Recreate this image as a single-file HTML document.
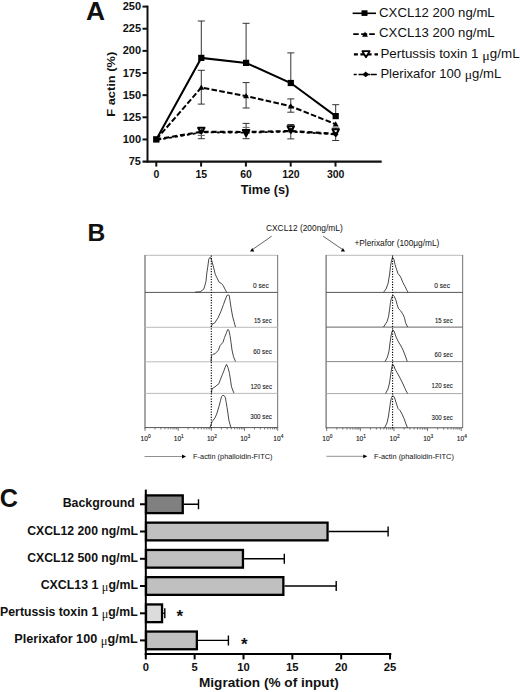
<!DOCTYPE html>
<html><head><meta charset="utf-8">
<style>
html,body{margin:0;padding:0;background:#fff;width:520px;height:692px;overflow:hidden}
svg{display:block;position:absolute;left:0;top:0}
text{font-family:"Liberation Sans",sans-serif;fill:#111}
.b{font-weight:bold}
.mus{font-family:"Liberation Serif",serif;font-size:1.05em}
.mu{font-family:"Liberation Serif",serif;font-weight:normal;font-size:1.0em}
</style></head><body>
<svg width="520" height="692" viewBox="0 0 520 692">
<text class="b" x="85.9" y="20.2" font-size="26.4">A</text>
<g stroke="#111" stroke-width="2" fill="none">
<line x1="147.5" y1="5.6" x2="147.5" y2="162.6"/>
<line x1="142.5" y1="6.60" x2="147.5" y2="6.60"/>
<line x1="142.5" y1="28.74" x2="147.5" y2="28.74"/>
<line x1="142.5" y1="50.88" x2="147.5" y2="50.88"/>
<line x1="142.5" y1="73.02" x2="147.5" y2="73.02"/>
<line x1="142.5" y1="95.16" x2="147.5" y2="95.16"/>
<line x1="142.5" y1="117.30" x2="147.5" y2="117.30"/>
<line x1="142.5" y1="139.44" x2="147.5" y2="139.44"/>
<line x1="142.5" y1="161.6" x2="381.7" y2="161.6" stroke-width="2.2"/>
<line x1="156.30" y1="161.6" x2="156.30" y2="166.6"/>
<line x1="201.10" y1="161.6" x2="201.10" y2="166.6"/>
<line x1="245.90" y1="161.6" x2="245.90" y2="166.6"/>
<line x1="290.70" y1="161.6" x2="290.70" y2="166.6"/>
<line x1="335.50" y1="161.6" x2="335.50" y2="166.6"/>
</g>
<g class="b" font-size="11" text-anchor="end">
<text x="141" y="10.20">250</text>
<text x="141" y="32.34">225</text>
<text x="141" y="54.48">200</text>
<text x="141" y="76.62">175</text>
<text x="141" y="98.76">150</text>
<text x="141" y="120.90">125</text>
<text x="141" y="143.04">100</text>
<text x="141" y="165.18">75</text>
</g>
<g class="b" font-size="10.5" text-anchor="middle">
<text x="156.50" y="177.9">0</text>
<text x="201.30" y="177.9">15</text>
<text x="246.10" y="177.9">60</text>
<text x="290.90" y="177.9">120</text>
<text x="335.70" y="177.9">300</text>
</g>
<text class="b" x="240.8" y="194.1" font-size="12.2" textLength="48.5" lengthAdjust="spacingAndGlyphs">Time (s)</text>
<text class="b" transform="translate(114.7,116.8) rotate(-90)" font-size="11.5" textLength="65" lengthAdjust="spacingAndGlyphs">F actin (%)</text>
<g stroke="#333" stroke-width="1" fill="none">
<path d="M201.3 21.0V57.9 M197.8 21.0h7"/>
<path d="M201.3 70.3V104.1 M197.8 70.3h7 M197.8 104.1h7"/>
<path d="M201.3 127.5V138.7 M197.8 127.5h7 M197.8 138.7h7"/>
<path d="M197.8 135.4h7" stroke="#666"/>
<path d="M246.1 23.3V62.9 M242.6 23.3h7"/>
<path d="M246.1 82.6V108 M242.6 82.6h7 M242.6 108h7"/>
<path d="M246.1 123.4V138.7 M242.6 123.4h7 M242.6 138.7h7"/>
<path d="M242.6 127.4h7" stroke="#666"/>
<path d="M290.8 52.9V83.0 M287.3 52.9h7"/>
<path d="M290.8 98.9V112.2 M287.3 98.9h7 M287.3 112.2h7"/>
<path d="M290.8 124.5V138.9 M287.3 124.5h7 M287.3 138.9h7"/>
<path d="M335.7 104.7V116.1 M332.2 104.7h7"/>
<path d="M335.7 128V140.5 M332.2 128h7 M332.2 140.5h7"/>
</g>
<g fill="none" stroke="#000" stroke-width="2">
<polyline points="156.3,139.4 201.3,57.9 246.1,62.9 290.8,83.0 335.7,116.1"/>
<polyline points="156.3,139.4 201.3,87.6 246.1,96.1 290.8,106.3 335.7,124.2" stroke-dasharray="5.6,2.3"/>
<polyline points="156.3,139.4 201.3,131.8 246.1,132.0 290.8,131.0 335.7,133.8" stroke-dasharray="5,3" stroke-width="2.2"/>
<polyline points="156.3,140.0 201.3,132.4 246.1,132.6 290.8,131.6 335.7,134.4" stroke-dasharray="3,3" stroke-dashoffset="5" stroke-width="1.8"/>
</g>
<g fill="#000">
<rect x="153.10" y="136.20" width="6.4" height="6.4"/>
<rect x="198.20" y="54.80" width="6.2" height="6.2"/>
<rect x="243.00" y="59.80" width="6.2" height="6.2"/>
<rect x="287.70" y="79.90" width="6.2" height="6.2"/>
<rect x="332.60" y="113.00" width="6.2" height="6.2"/>
<path d="M201.3 84.6l3 5.2h-6z"/>
<path d="M246.1 93.1l3 5.2h-6z"/>
<path d="M290.8 103.3l3 5.2h-6z"/>
<path d="M335.7 121.2l3 5.2h-6z"/>
</g>
<g fill="#fff" stroke="#000" stroke-width="2.1" stroke-linejoin="round">
<path d="M198.10000000000002 127.8h6.4L201.3 133.2z"/>
<path d="M242.9 130.0h6.4L246.1 136.0z"/>
<path d="M287.6 126.2h6.4L290.8 132.8z"/>
<path d="M332.5 129.2h6.4L335.7 135.8z"/>
</g>
<g fill="#000">
<path d="M201.3 129.0l2.8 2.6-2.8 2.6-2.8-2.6z"/>
<path d="M246.1 129.8l2.8 2.6-2.8 2.6-2.8-2.6z"/>
<path d="M290.8 127.6l2.8 2.6-2.8 2.6-2.8-2.6z"/>
<path d="M335.7 131.8l2.8 2.6-2.8 2.6-2.8-2.6z"/>
</g>
<g stroke="#000" fill="none">
<line x1="352.6" y1="13.3" x2="376" y2="13.3" stroke-width="1.6"/>
<path d="M353.2 34.1h5.5 M361.2 34.1h6 M369.2 34.1h5.6" stroke-width="1.6"/>
<path d="M353.9 54.3h4 M360.4 54.3h11.2 M374.5 54.3h3.5" stroke-width="2.2"/>
<path d="M353.7 74.4h3 M358.5 74.4h12 M371 74.4h5.8" stroke-width="1.5"/>
</g>
<rect x="361.5" y="10.3" width="6" height="5.6" fill="#000"/>
<path d="M365 31.4l2.9 5.3h-5.8z" fill="#000"/>
<path d="M362.4 51.2h7.2l-3.6 6z" fill="#fff" stroke="#000" stroke-width="1.8" stroke-linejoin="round"/>
<path d="M365.7 71.6l3.3 2.8-3.3 2.8-3.3-2.8z" fill="#000"/>
<g font-size="12.2">
<text x="379.1" y="16.8" textLength="115.6" lengthAdjust="spacingAndGlyphs">CXCL12 200 ng/mL</text>
<text x="379.1" y="36.9" textLength="115.6" lengthAdjust="spacingAndGlyphs">CXCL13 200 ng/mL</text>
<text x="380.4" y="58.4" textLength="139.2" lengthAdjust="spacingAndGlyphs">Pertussis toxin 1 <tspan class="mus" dy="1.4">μ</tspan><tspan dy="-1.4">g/mL</tspan></text>
<text x="380.4" y="77.9" textLength="120.8" lengthAdjust="spacingAndGlyphs">Plerixafor 100 <tspan class="mus" dy="1.4">μ</tspan><tspan dy="-1.4">g/mL</tspan></text>
</g>
<text class="b" x="87.6" y="241.3" font-size="24.6">B</text>
<text x="266" y="231.4" font-size="8.6" textLength="76.7" lengthAdjust="spacingAndGlyphs">CXCL12 (200ng/mL)</text>
<text x="354.4" y="246.2" font-size="8.4" textLength="85" lengthAdjust="spacingAndGlyphs">+Plerixafor (100μg/mL)</text>
<g stroke="#333" stroke-width="0.75" fill="#000">
<line x1="271.7" y1="236.2" x2="253" y2="249.2"/>
<line x1="323.1" y1="236.2" x2="342.4" y2="249.4"/>
<path d="M250.1 251.6h4.3l-2.2-3.6z M340.8 251.4h4.2l-2.1-3.5z" stroke="none"/>
</g>
<g fill="none" stroke-width="1">
<line x1="145" y1="255.3" x2="277.6" y2="255.3" stroke="#bbb"/>
<line x1="145" y1="255" x2="145" y2="428.5" stroke="#777" stroke-width="1.3"/>
<line x1="277.6" y1="255" x2="277.6" y2="428" stroke="#888" stroke-width="1.2"/>
<line x1="145" y1="292.4" x2="277.6" y2="292.4" stroke="#555"/>
<line x1="145" y1="327.3" x2="277.6" y2="327.3" stroke="#bbb"/>
<line x1="145" y1="361.8" x2="277.6" y2="361.8" stroke="#bbb"/>
<line x1="145" y1="393.4" x2="277.6" y2="393.4" stroke="#bbb"/>
<line x1="145" y1="427.6" x2="277.6" y2="427.6" stroke="#555"/>
</g>
<g fill="none" stroke-width="1">
<line x1="326.1" y1="255.3" x2="462.6" y2="255.3" stroke="#bbb"/>
<line x1="326.1" y1="255" x2="326.1" y2="428.5" stroke="#777" stroke-width="1.3"/>
<line x1="462.6" y1="255" x2="462.6" y2="428" stroke="#888" stroke-width="1.2"/>
<line x1="326.1" y1="292.4" x2="462.6" y2="292.4" stroke="#555"/>
<line x1="326.1" y1="327.1" x2="462.6" y2="327.1" stroke="#666"/>
<line x1="326.1" y1="361.6" x2="462.6" y2="361.6" stroke="#888"/>
<line x1="326.1" y1="393.6" x2="462.6" y2="393.6" stroke="#aaa"/>
<line x1="326.1" y1="427.8" x2="462.6" y2="427.8" stroke="#555"/>
</g>
<g fill="none" stroke="#333" stroke-width="0.9" stroke-linejoin="round">
<polyline points="195,292.2 200.2,291.8 203.7,289.2 204.8,285.8 206,281.2 206.8,273.1 207.7,267.3 208.8,259.2 209.8,257.5 210.9,257.8 211.7,260.4 212.9,265 214,269 215.2,274.2 216.9,277.7 219.2,282.3 221.5,283.5 223.3,285.8 225,289.2 226.7,292.4"/>
<polyline points="211.1,327 212.5,323.7 214.5,323.2 218,317.9 221,311.2 223.5,304.4 226,297.7 227,295.3 228.3,295 229.2,295.3 230,300.6 231,307.3 232.5,316 234,321.7 235.5,327"/>
<polyline points="211,361.5 211.5,355.8 213,354.3 215,353.8 218.5,350 220,345.7 223,342.3 224.5,337.5 226.5,332.7 227.5,329.8 228.3,329.5 229,330.8 230,335.6 231,342.3 232,350 233.5,356.7 235.5,361.5"/>
<polyline points="211.5,393.2 212,388.8 215,386.8 219,383.5 220.5,379.2 222.5,374.3 224,370.5 225,367.6 226.5,364.3 228,367.6 229.5,373.4 230.5,380.1 231.5,386.8 233.5,392.1 234,393.2"/>
<polyline points="210,427.5 212,421.7 215,417.9 217,413.1 219,406.3 220.5,400.6 221.5,396.7 222.5,395.5 224,395.5 225.5,397.7 226,401.5 227,407.3 228,414 229,420.8 230.5,426 231,427.5"/>
<polyline points="383.5,292.3 386,289 388,283.7 389.5,275 390.5,266.3 391.5,260.6 392.5,257.2 394,259.6 395,264.4 396.5,269.2 398,273.6 400,276 401,277.9 403,282.7 405,286.5 407,290.4 408,292.3"/>
<polyline points="383.5,327 387,321.7 388.5,316.8 389.5,310.1 390.5,302.4 391.5,297.6 393,295.2 394.5,296.7 396,300.5 397,304.3 398.5,308.7 400.5,310.6 403,314.4 404.5,317.8 405.5,322.6 407,326 408,327"/>
<polyline points="385,361.6 387.5,357 389,351 390,343 391,336 392,331.5 392.8,330 394,331 395,334 396.5,338 398.5,342 401,346 403,350 405,355 407.3,361.6"/>
<polyline points="385.5,393.6 388,389 389.5,383 390.5,376 391.5,369 392.5,364 394,366 395,369 397,372.5 399,376 401,380 403,384 405,388.5 407.5,393.6"/>
<polyline points="384.5,427.8 387,423 388.5,416 389.5,409 390.5,402 391.5,397.5 392.5,395.8 394,396.5 395,399 396.5,404 398,408.5 400,410.5 402,414 404,418.5 406,424 407.5,427.8"/>
</g>
<line x1="211.3" y1="255.5" x2="211.3" y2="428" stroke="#000" stroke-width="1.1" stroke-dasharray="1.2,1.4"/>
<line x1="392.6" y1="255.5" x2="392.6" y2="428" stroke="#000" stroke-width="1.1" stroke-dasharray="1.2,1.4"/>
<g font-size="6.5" fill="#111" stroke="#111" stroke-width="0.08">
<text x="253.1" y="287.8" lengthAdjust="spacingAndGlyphs" textLength="15.7">0 sec</text>
<text x="253.9" y="322.7" lengthAdjust="spacingAndGlyphs" textLength="17.9">15 sec</text>
<text x="253.3" y="354.1" lengthAdjust="spacingAndGlyphs" textLength="18.5">60 sec</text>
<text x="250.4" y="389" lengthAdjust="spacingAndGlyphs" textLength="21.7">120 sec</text>
<text x="250.2" y="419.1" lengthAdjust="spacingAndGlyphs" textLength="21.8">300 sec</text>
<text x="434.2" y="288" lengthAdjust="spacingAndGlyphs" textLength="15.8">0 sec</text>
<text x="434.9" y="322.6" lengthAdjust="spacingAndGlyphs" textLength="17.8">15 sec</text>
<text x="434.6" y="357.1" lengthAdjust="spacingAndGlyphs" textLength="18.2">60 sec</text>
<text x="431.6" y="388.3" lengthAdjust="spacingAndGlyphs" textLength="21.2">120 sec</text>
<text x="431.6" y="419.7" lengthAdjust="spacingAndGlyphs" textLength="21.2">300 sec</text>
</g>
<g stroke="#555" stroke-width="0.8">
<line x1="145.00" y1="427.6" x2="145.00" y2="430.90000000000003"/>
<line x1="154.99" y1="427.6" x2="154.99" y2="429.40000000000003"/>
<line x1="160.83" y1="427.6" x2="160.83" y2="429.40000000000003"/>
<line x1="164.98" y1="427.6" x2="164.98" y2="429.40000000000003"/>
<line x1="168.19" y1="427.6" x2="168.19" y2="429.40000000000003"/>
<line x1="170.82" y1="427.6" x2="170.82" y2="429.40000000000003"/>
<line x1="173.04" y1="427.6" x2="173.04" y2="429.40000000000003"/>
<line x1="174.96" y1="427.6" x2="174.96" y2="429.40000000000003"/>
<line x1="176.66" y1="427.6" x2="176.66" y2="429.40000000000003"/>
<line x1="178.18" y1="427.6" x2="178.18" y2="430.90000000000003"/>
<line x1="188.17" y1="427.6" x2="188.17" y2="429.40000000000003"/>
<line x1="194.01" y1="427.6" x2="194.01" y2="429.40000000000003"/>
<line x1="198.16" y1="427.6" x2="198.16" y2="429.40000000000003"/>
<line x1="201.37" y1="427.6" x2="201.37" y2="429.40000000000003"/>
<line x1="204.00" y1="427.6" x2="204.00" y2="429.40000000000003"/>
<line x1="206.22" y1="427.6" x2="206.22" y2="429.40000000000003"/>
<line x1="208.14" y1="427.6" x2="208.14" y2="429.40000000000003"/>
<line x1="209.84" y1="427.6" x2="209.84" y2="429.40000000000003"/>
<line x1="211.36" y1="427.6" x2="211.36" y2="430.90000000000003"/>
<line x1="221.35" y1="427.6" x2="221.35" y2="429.40000000000003"/>
<line x1="227.19" y1="427.6" x2="227.19" y2="429.40000000000003"/>
<line x1="231.34" y1="427.6" x2="231.34" y2="429.40000000000003"/>
<line x1="234.55" y1="427.6" x2="234.55" y2="429.40000000000003"/>
<line x1="237.18" y1="427.6" x2="237.18" y2="429.40000000000003"/>
<line x1="239.40" y1="427.6" x2="239.40" y2="429.40000000000003"/>
<line x1="241.32" y1="427.6" x2="241.32" y2="429.40000000000003"/>
<line x1="243.02" y1="427.6" x2="243.02" y2="429.40000000000003"/>
<line x1="244.54" y1="427.6" x2="244.54" y2="430.90000000000003"/>
<line x1="254.53" y1="427.6" x2="254.53" y2="429.40000000000003"/>
<line x1="260.37" y1="427.6" x2="260.37" y2="429.40000000000003"/>
<line x1="264.52" y1="427.6" x2="264.52" y2="429.40000000000003"/>
<line x1="267.73" y1="427.6" x2="267.73" y2="429.40000000000003"/>
<line x1="270.36" y1="427.6" x2="270.36" y2="429.40000000000003"/>
<line x1="272.58" y1="427.6" x2="272.58" y2="429.40000000000003"/>
<line x1="274.50" y1="427.6" x2="274.50" y2="429.40000000000003"/>
<line x1="276.20" y1="427.6" x2="276.20" y2="429.40000000000003"/>
<line x1="277.72" y1="427.6" x2="277.72" y2="430.90000000000003"/>
</g>
<g fill="#222">
<text x="140.60" y="440.8" font-size="6.6" stroke="#222" stroke-width="0.12">10<tspan dy="-2.8" font-size="4.8">0</tspan></text>
<text x="173.78" y="440.8" font-size="6.6" stroke="#222" stroke-width="0.12">10<tspan dy="-2.8" font-size="4.8">1</tspan></text>
<text x="206.96" y="440.8" font-size="6.6" stroke="#222" stroke-width="0.12">10<tspan dy="-2.8" font-size="4.8">2</tspan></text>
<text x="240.14" y="440.8" font-size="6.6" stroke="#222" stroke-width="0.12">10<tspan dy="-2.8" font-size="4.8">3</tspan></text>
<text x="273.32" y="440.8" font-size="6.6" stroke="#222" stroke-width="0.12">10<tspan dy="-2.8" font-size="4.8">4</tspan></text>
</g>
<g stroke="#555" stroke-width="0.8">
<line x1="326.70" y1="427.8" x2="326.70" y2="431.1"/>
<line x1="336.82" y1="427.8" x2="336.82" y2="429.6"/>
<line x1="342.75" y1="427.8" x2="342.75" y2="429.6"/>
<line x1="346.95" y1="427.8" x2="346.95" y2="429.6"/>
<line x1="350.21" y1="427.8" x2="350.21" y2="429.6"/>
<line x1="352.87" y1="427.8" x2="352.87" y2="429.6"/>
<line x1="355.12" y1="427.8" x2="355.12" y2="429.6"/>
<line x1="357.07" y1="427.8" x2="357.07" y2="429.6"/>
<line x1="358.79" y1="427.8" x2="358.79" y2="429.6"/>
<line x1="360.33" y1="427.8" x2="360.33" y2="431.1"/>
<line x1="370.45" y1="427.8" x2="370.45" y2="429.6"/>
<line x1="376.38" y1="427.8" x2="376.38" y2="429.6"/>
<line x1="380.58" y1="427.8" x2="380.58" y2="429.6"/>
<line x1="383.84" y1="427.8" x2="383.84" y2="429.6"/>
<line x1="386.50" y1="427.8" x2="386.50" y2="429.6"/>
<line x1="388.75" y1="427.8" x2="388.75" y2="429.6"/>
<line x1="390.70" y1="427.8" x2="390.70" y2="429.6"/>
<line x1="392.42" y1="427.8" x2="392.42" y2="429.6"/>
<line x1="393.96" y1="427.8" x2="393.96" y2="431.1"/>
<line x1="404.08" y1="427.8" x2="404.08" y2="429.6"/>
<line x1="410.01" y1="427.8" x2="410.01" y2="429.6"/>
<line x1="414.21" y1="427.8" x2="414.21" y2="429.6"/>
<line x1="417.47" y1="427.8" x2="417.47" y2="429.6"/>
<line x1="420.13" y1="427.8" x2="420.13" y2="429.6"/>
<line x1="422.38" y1="427.8" x2="422.38" y2="429.6"/>
<line x1="424.33" y1="427.8" x2="424.33" y2="429.6"/>
<line x1="426.05" y1="427.8" x2="426.05" y2="429.6"/>
<line x1="427.59" y1="427.8" x2="427.59" y2="431.1"/>
<line x1="437.71" y1="427.8" x2="437.71" y2="429.6"/>
<line x1="443.64" y1="427.8" x2="443.64" y2="429.6"/>
<line x1="447.84" y1="427.8" x2="447.84" y2="429.6"/>
<line x1="451.10" y1="427.8" x2="451.10" y2="429.6"/>
<line x1="453.76" y1="427.8" x2="453.76" y2="429.6"/>
<line x1="456.01" y1="427.8" x2="456.01" y2="429.6"/>
<line x1="457.96" y1="427.8" x2="457.96" y2="429.6"/>
<line x1="459.68" y1="427.8" x2="459.68" y2="429.6"/>
<line x1="461.22" y1="427.8" x2="461.22" y2="431.1"/>
</g>
<g fill="#222">
<text x="322.30" y="440.8" font-size="6.6" stroke="#222" stroke-width="0.12">10<tspan dy="-2.8" font-size="4.8">0</tspan></text>
<text x="355.93" y="440.8" font-size="6.6" stroke="#222" stroke-width="0.12">10<tspan dy="-2.8" font-size="4.8">1</tspan></text>
<text x="389.56" y="440.8" font-size="6.6" stroke="#222" stroke-width="0.12">10<tspan dy="-2.8" font-size="4.8">2</tspan></text>
<text x="423.19" y="440.8" font-size="6.6" stroke="#222" stroke-width="0.12">10<tspan dy="-2.8" font-size="4.8">3</tspan></text>
<text x="456.82" y="440.8" font-size="6.6" stroke="#222" stroke-width="0.12">10<tspan dy="-2.8" font-size="4.8">4</tspan></text>
</g>
<g stroke="#444" stroke-width="0.6">
<line x1="144.5" y1="456.5" x2="183" y2="456.5"/>
<line x1="326.4" y1="456.3" x2="364.5" y2="456.3"/>
</g>
<path d="M186 456.5l-4-1.9v3.8z M367.3 456.3l-4-1.9v3.8z" fill="#000"/>
<text x="193.1" y="458.8" font-size="7.5" fill="#222" textLength="79.3" lengthAdjust="spacingAndGlyphs">F-actin (phalloidin-FITC)</text>
<text x="373.9" y="458.6" font-size="7.5" fill="#222" textLength="80" lengthAdjust="spacingAndGlyphs">F-actin (phalloidin-FITC)</text>
<text class="b" x="-0.3" y="507.3" font-size="25.2">C</text>
<g stroke="#000" stroke-width="1.4" fill="none">
<path d="M183.9 504.25H198.5 M198.5 499.25v10"/>
<path d="M328.7 531.5H388.1 M388.1 526.5v10"/>
<path d="M244.1 558.8H284.3 M284.3 553.8v10"/>
<path d="M284.5 586.0H336.2 M336.2 581.0v10"/>
<path d="M163.2 613.3H164.8 M164.8 608.3v10"/>
<path d="M198.0 640.4H228.4 M228.4 635.4v10"/>
</g>
<g stroke="#000" stroke-width="2.3">
<rect x="146" y="495.40" width="36.75" height="17.7" fill="#808080"/>
<rect x="146" y="522.65" width="181.55" height="17.7" fill="#c0c0c0"/>
<rect x="146" y="549.95" width="96.95" height="17.7" fill="#c0c0c0"/>
<rect x="146" y="577.15" width="137.35" height="17.7" fill="#c0c0c0"/>
<rect x="146" y="604.45" width="16.05" height="17.7" fill="#dcdcdc"/>
<rect x="146" y="631.55" width="50.85" height="17.7" fill="#c0c0c0"/>
</g>
<g stroke="#000" stroke-width="2" fill="none">
<line x1="145.8" y1="489.6" x2="145.8" y2="655"/>
<line x1="140" y1="504.25" x2="145.8" y2="504.25"/>
<line x1="140" y1="531.5" x2="145.8" y2="531.5"/>
<line x1="140" y1="558.8" x2="145.8" y2="558.8"/>
<line x1="140" y1="586.0" x2="145.8" y2="586.0"/>
<line x1="140" y1="613.3" x2="145.8" y2="613.3"/>
<line x1="140" y1="640.4" x2="145.8" y2="640.4"/>
<line x1="144.8" y1="654" x2="391.3" y2="654"/>
<line x1="145.80" y1="654" x2="145.80" y2="659.4"/>
<line x1="194.65" y1="654" x2="194.65" y2="659.4"/>
<line x1="243.50" y1="654" x2="243.50" y2="659.4"/>
<line x1="292.35" y1="654" x2="292.35" y2="659.4"/>
<line x1="341.20" y1="654" x2="341.20" y2="659.4"/>
<line x1="390.05" y1="654" x2="390.05" y2="659.4"/>
</g>
<g class="b" font-size="11.2" text-anchor="middle">
<text x="145.80" y="671.3">0</text>
<text x="194.65" y="671.3">5</text>
<text x="243.50" y="671.3">10</text>
<text x="292.35" y="671.3">15</text>
<text x="341.20" y="671.3">20</text>
<text x="390.05" y="671.3">25</text>
</g>
<g class="b" font-size="12.2">
<text x="62.70" y="507.25" textLength="72.10" lengthAdjust="spacingAndGlyphs">Background</text>
<text x="27.30" y="534.50" textLength="110.70" lengthAdjust="spacingAndGlyphs">CXCL12 200 ng/mL</text>
<text x="27.30" y="561.80" textLength="110.70" lengthAdjust="spacingAndGlyphs">CXCL12 500 ng/mL</text>
<text x="40.70" y="589.00" textLength="97.30" lengthAdjust="spacingAndGlyphs">CXCL13 1 <tspan class="mu" dy="1.8">μ</tspan><tspan dy="-1.8">g/mL</tspan></text>
<text x="0.10" y="616.30" textLength="137.60" lengthAdjust="spacingAndGlyphs">Pertussis toxin 1 <tspan class="mu" dy="1.8">μ</tspan><tspan dy="-1.8">g/mL</tspan></text>
<text x="14.30" y="643.40" textLength="123.40" lengthAdjust="spacingAndGlyphs">Plerixafor 100 <tspan class="mu" dy="1.8">μ</tspan><tspan dy="-1.8">g/mL</tspan></text>
</g>
<text class="b" x="199" y="687" font-size="13.2" textLength="139.7" lengthAdjust="spacingAndGlyphs">Migration (% of input)</text>
<text class="b" x="179.8" y="622" font-size="17" text-anchor="middle">*</text>
<text class="b" x="244.2" y="650" font-size="17" text-anchor="middle">*</text>
</svg></body></html>
